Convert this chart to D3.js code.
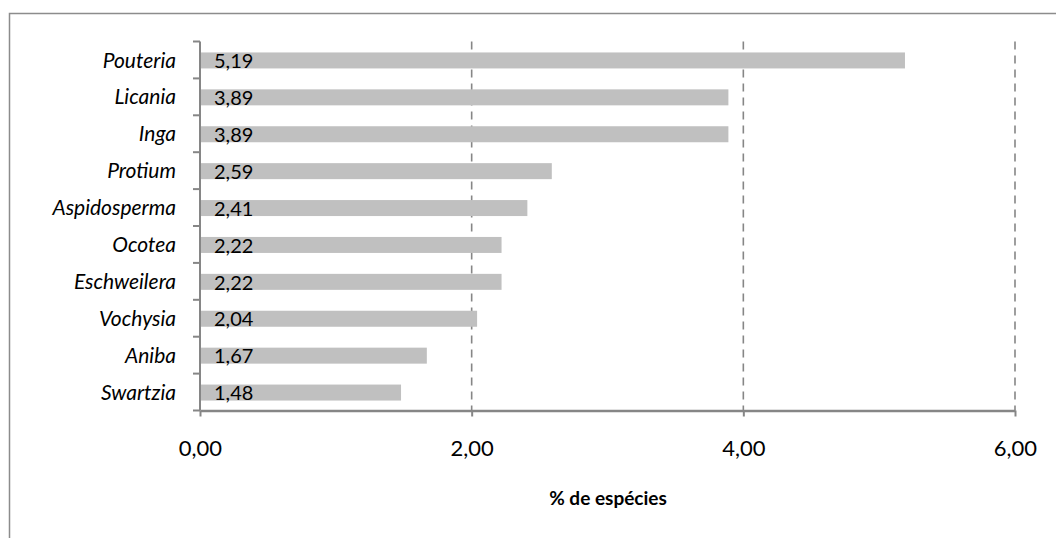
<!DOCTYPE html>
<html><head><meta charset="utf-8">
<script src="https://cdn.jsdelivr.net/npm/d3@7"></script>
<style>body{margin:0;background:#fff}svg{display:block}</style>
</head><body><svg id="c" width="1056" height="538"></svg>
<script>
const categories = ["Pouteria","Licania","Inga","Protium","Aspidosperma","Ocotea","Eschweilera","Vochysia","Aniba","Swartzia"];
const values = [5.19,3.89,3.89,2.59,2.41,2.22,2.22,2.04,1.67,1.48];
const xTicks = [0,2,4,6];
const xTitle = "% de espécies";

const svg = d3.select("#c");
const font = "Lato, 'Open Sans', sans-serif";
const fmt = v => d3.format(".2f")(v).replace(".", ",");

svg.append("rect").attr("x",9.5).attr("y",13.5).attr("width",1100).attr("height",600)
  .attr("fill","none").attr("stroke","#8c8c8c").attr("stroke-width",1.5);

const x = d3.scaleLinear().domain([0,6]).range([200,1015]);
const yb = d3.scaleBand().domain(categories).range([41.5,410.5]);

// gridlines
svg.append("g").selectAll("line").data(xTicks.filter(t=>t>0)).join("line")
  .attr("x1",d=>x(d)).attr("x2",d=>x(d)).attr("y1",41.5).attr("y2",410.5)
  .attr("stroke","#868686").attr("stroke-width",1.6).attr("stroke-dasharray","8,6");

// bars
svg.append("g").selectAll("rect").data(categories).join("rect")
  .attr("x",x(0)).attr("y",(d)=>yb(d)+yb.bandwidth()/2-7.5).attr("height",16)
  .attr("width",(d,i)=>x(values[i])-x(0)).attr("fill","#c0c0c0");

// value labels
svg.append("g").selectAll("text").data(categories).join("text")
  .attr("x",x(0)+14).attr("y",d=>yb(d)+yb.bandwidth()/2+1).attr("dy","0.36em")
  .attr("font-family",font).attr("font-size",20).attr("fill","#000")
  .text((d,i)=>fmt(values[i]));

// y axis
const gy = svg.append("g").attr("transform","translate(200,0)");
gy.append("line").attr("x1",0).attr("x2",0).attr("y1",41.5).attr("y2",410.5).attr("stroke","#868686").attr("stroke-width",2);
const bounds = categories.map(c=>yb(c)).concat([410.5]);
gy.selectAll("line.t").data(bounds).join("line").attr("class","t")
  .attr("x1",-7).attr("x2",0).attr("y1",d=>d).attr("y2",d=>d).attr("stroke","#868686").attr("stroke-width",2);
gy.selectAll("text").data(categories).join("text")
  .attr("x",-24).attr("y",d=>yb(d)+yb.bandwidth()/2).attr("dy","0.36em").attr("text-anchor","end")
  .attr("font-family",font).attr("font-style","italic").attr("font-size",21).attr("fill","#000").text(d=>d);

// x axis
const xAxis = d3.axisBottom(x).tickValues(xTicks).tickSize(6).tickFormat(fmt).tickSizeOuter(0);
const gx = svg.append("g").attr("transform","translate(0,410.5)").call(xAxis);
gx.select(".domain").attr("stroke","#868686").attr("stroke-width",2.5);
gx.selectAll(".tick line").attr("stroke","#868686").attr("stroke-width",2);
gx.selectAll(".tick text").attr("y",38).attr("dy","0.36em").attr("font-family",font).attr("font-size",22).attr("fill","#000");

svg.append("text").attr("x",608).attr("y",498).attr("dy","0.36em").attr("text-anchor","middle")
  .attr("font-family",font).attr("font-weight","bold").attr("font-size",19).attr("fill","#000").text(xTitle);
</script></body></html>
